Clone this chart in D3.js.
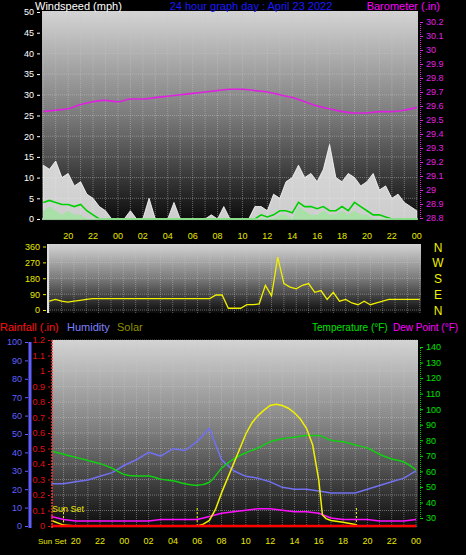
<!DOCTYPE html><html><head><meta charset="utf-8">
<script src="https://d3js.org/d3.v7.min.js"></script>
<style>body{margin:0;background:#000}svg{display:block;font-family:"Liberation Sans",Arial,sans-serif}</style></head><body>
<script>
// ---- data ----
const hourTicks=[20,22,24,26,28,30,32,34,36,38,40,42,44,46,48];
const hourLabels=["20","22","00","02","04","06","08","10","12","14","16","18","20","22","00"];
const hours=d3.range(18,49);
const halfHours=d3.range(18,48.01,0.5);
const baro=[29.56,29.57,29.58,29.61,29.63,29.64,29.63,29.65,29.65,29.66,29.67,29.68,29.69,29.70,29.71,29.72,29.72,29.71,29.70,29.68,29.66,29.63,29.60,29.58,29.56,29.55,29.55,29.56,29.56,29.57,29.59];
const gust=[13,12,14,10,11,8,9,6,5,3,2,0,0,0,2,0,0,5,0,0,0,4,0,0,0,0,0,1,0,3,0,0,0,0,3,3,2,6,5,9,10,13,10,11,9,12,18,10,9,11,10,8,9,11,7,8,5,6,4,3,2];
const windAvg=[4,4.5,4,3.5,3.5,3,3.5,2,1,0,0,0,0,0,0,0,0,0,0,0,0,0,0,0,0,0,0,0,0,0,0,0,0,0,0,1,0.5,1,2,2,1.5,4,3,3,2.5,3,2,2,3,2,4,3,2,1,1,0.5,0,0,0,0,0];
const windSpd=[2,3,2,1,2,1,1,0,0,0,0,0,0,0,0,0,0,0,0,0,0,0,0,0,0,0,0,0,0,0,0,0,0,0,0,0,0,0,1,1,0,3,2,1,1,2,1,1,2,1,2,1,1,0,0,0,0,0,0,0,0];
const windDir=[50,60,50,45,50,55,60,65,65,65,65,65,65,65,65,65,65,65,65,65,65,65,65,65,65,65,65,85,85,10,10,10,30,30,35,140,80,300,150,130,120,140,150,100,110,60,100,50,60,40,30,50,30,40,50,60,60,60,60,60,60];
const humidity=[23,23,24,25,27,29,33,36,40,38,42,41,46,53,36,30,27,26,24,21,20,20,19,18,18,18,20,22,24,26,30];
const temperature=[73,71,69,67,65,62,58,57,57,55,54,52,51,53,62,68,72,75,79,81,82,83,83,80,79,77,75,71,68,66,61];
const dewPoint=[31,29,28,28,28,28,28,28,28,29,29,29,29,31,33,34,35,36,36,35,34,34,33,30,29,29,29,28,28,28,29];
const solarTimes=[18,19,20,30,30.5,31,31.5,32,32.5,33,33.5,34,34.5,35,35.5,36,36.5,37,37.5,38,38.5,39,39.5,40,40.3,40.6,41,42,43,43.2,48];
const solarVals=[30,5,0,0,10,30,90,180,260,340,420,500,560,600,630,655,662,655,640,615,580,530,440,250,60,40,30,20,8,0,0];
const rainfall=hours.map(()=>0);
const sunTimes=[19.0,30.0,43.1];
const baroTicks=[28.8,28.9,29,29.1,29.2,29.3,29.4,29.5,29.6,29.7,29.8,29.9,30,30.1,30.2];
const dirTicks=[0,90,180,270,360];
const dirLabels=["N","E","S","W","N"];

const W=466,H=555;
const svg=d3.select("body").append("svg").attr("width",W).attr("height",H);
const defs=svg.append("defs");
const g=defs.append("linearGradient").attr("id","bg").attr("x1",0).attr("x2",0).attr("y1",0).attr("y2",1);
g.append("stop").attr("offset",0).attr("stop-color","#d4d4d4");
g.append("stop").attr("offset",0.5).attr("stop-color","#7a7a7a");
g.append("stop").attr("offset",1).attr("stop-color","#0a0a0a");

function panel(x0,x1,y0,y1){
  svg.append("rect").attr("x",x0).attr("y",y0).attr("width",x1-x0).attr("height",y1-y0).attr("fill","url(#bg)");
  const x=d3.scaleLinear().domain([17.9,48.1]).range([x0,x1]);
  svg.append("g").selectAll("line").data(d3.range(18,49)).join("line")
    .attr("x1",d=>x(d)).attr("x2",d=>x(d)).attr("y1",y0).attr("y2",y1)
    .attr("stroke","#c8c8c8").attr("stroke-opacity",0.45).attr("stroke-dasharray","1,1");
  return x;
}
function hgrid(y,vals,x0,x1){
  svg.append("g").selectAll("line").data(vals).join("line")
   .attr("x1",x0).attr("x2",x1).attr("y1",d=>y(d)).attr("y2",d=>y(d))
   .attr("stroke","#c8c8c8").attr("stroke-opacity",0.45).attr("stroke-dasharray","1,1");
}
function txt(x,y,s,c,anchor,size){return svg.append("text").attr("x",x).attr("y",y).text(s).attr("fill",c).attr("text-anchor",anchor||"start").attr("font-size",size||10);}

// ---- top panel ----
const x1s=panel(42,418,11,221);
const yW=d3.scaleLinear().domain([0,50]).range([219,12]);
const yB=d3.scaleLinear().domain([28.8,30.2]).range([218,22]);
hgrid(yW,d3.range(0,51,5),42,418);
svg.append("path").datum(gust).attr("fill","#f0f0f0").attr("fill-opacity",0.85).attr("stroke","#fff").attr("stroke-width",0.8)
 .attr("d",d3.area().x((d,i)=>x1s(halfHours[i])).y0(yW(0)).y1(d=>yW(d)));
svg.append("path").datum(windSpd).attr("fill","#a8e0a8")
 .attr("d",d3.area().x((d,i)=>x1s(halfHours[i])).y0(yW(0)).y1(d=>yW(d)));
svg.append("path").datum(windAvg).attr("fill","none").attr("stroke","#00d000").attr("stroke-width",1.6)
 .attr("d",d3.line().x((d,i)=>x1s(halfHours[i])).y(d=>yW(d)));
svg.append("line").attr("x1",42).attr("x2",418).attr("y1",yW(0)).attr("y2",yW(0)).attr("stroke","#a8e0a8").attr("stroke-width",1.5);
svg.append("path").datum(baro).attr("fill","none").attr("stroke","#e020e0").attr("stroke-width",1.6)
 .attr("d",d3.line().x((d,i)=>x1s(hours[i])).y(d=>yB(d)).curve(d3.curveMonotoneX));
svg.append("g").attr("transform","translate(40,0)").call(d3.axisLeft(yW).tickValues(d3.range(0,51,5)).tickSize(3))
 .call(a=>{a.select(".domain").remove();a.selectAll("text").attr("fill","#ffffff").attr("font-size",9);a.selectAll("line").attr("stroke","#fff");});
svg.append("g").attr("transform","translate(420,0)").call(d3.axisRight(yB).tickValues(baroTicks).tickFormat(d3.format("~g")).tickSize(3))
 .call(a=>{a.select(".domain").attr("stroke","#e020e0").attr("stroke-dasharray","1,1");a.selectAll("text").attr("fill","#e020e0").attr("font-size",9);a.selectAll("line").attr("stroke","#e020e0");});
svg.append("g").selectAll("text").data(hourTicks).join("text").attr("x",d=>x1s(d)).attr("y",239)
 .attr("text-anchor","middle").attr("fill","#e8e800").attr("font-size",9).text((d,i)=>hourLabels[i]);
txt(35,10,"Windspeed (mph)","#ffffff","start",11);
txt(251,10,"24 hour graph day : April 23 2022","#1a1aff","middle",11);
txt(440,10,"Barometer (.in)","#ff00ff","end",11);

// ---- middle panel ----
const x2s=panel(48,421,244,313);
const yD=d3.scaleLinear().domain([0,360]).range([310,246.5]);
hgrid(yD,dirTicks,48,421);
svg.append("path").datum(windDir).attr("fill","none").attr("stroke","#f0f000").attr("stroke-width",1.3)
 .attr("d",d3.line().x((d,i)=>x2s(halfHours[i])).y(d=>yD(d)));
svg.append("line").attr("x1",48).attr("x2",48).attr("y1",244).attr("y2",313).attr("stroke","#ddd").attr("stroke-width",2);
svg.append("g").attr("transform","translate(46,0)").call(d3.axisLeft(yD).tickValues(dirTicks).tickSize(3))
 .call(a=>{a.select(".domain").remove();a.selectAll("text").attr("fill","#e8e800").attr("font-size",9);a.selectAll("line").attr("stroke","#e8e800");});
svg.append("g").selectAll("text").data(dirTicks).join("text").attr("x",438).attr("y",d=>yD(d)+5)
 .attr("text-anchor","middle").attr("fill","#f0f000").attr("font-size",12).text((d,i)=>dirLabels[i]);

// legend row
txt(0,331,"Rainfall (.in)","#ff1010","start",11);
txt(67,331,"Humidity","#8080ff","start",11);
txt(117,331,"Solar","#909000","start",11);
txt(312,331,"Temperature (°F)","#00e000","start",10);
txt(393,331,"Dew Point (°F)","#ff00ff","start",10);

// ---- bottom panel ----
const x3s=d3.scaleLinear().domain([22,48]).range([100,416]);
svg.append("rect").attr("x",52).attr("y",340).attr("width",366).attr("height",188).attr("fill","url(#bg)");
svg.append("g").selectAll("line").data(d3.range(19,49)).join("line")
 .attr("x1",d=>x3s(d)).attr("x2",d=>x3s(d)).attr("y1",340).attr("y2",528)
 .attr("stroke","#c8c8c8").attr("stroke-opacity",0.45).attr("stroke-dasharray","1,1");
const yH=d3.scaleLinear().domain([0,100]).range([526,342]);
const yR=d3.scaleLinear().domain([0,1.2]).range([526,340]);
const yT=d3.scaleLinear().domain([30,140]).range([518,347]);
const yS=d3.scaleLinear().domain([0,1000]).range([526,342]);
hgrid(yR,d3.range(0,1.21,0.1),52,418);
svg.append("g").selectAll("line").data(sunTimes).join("line").attr("x1",d=>x3s(d)).attr("x2",d=>x3s(d))
 .attr("y1",508).attr("y2",527).attr("stroke","#f0f000").attr("stroke-dasharray","2,2");
svg.append("path").datum(humidity).attr("fill","none").attr("stroke","#7070f0").attr("stroke-width",1.5)
 .attr("d",d3.line().x((d,i)=>x3s(hours[i])).y(d=>yH(d)));
svg.append("path").datum(temperature).attr("fill","none").attr("stroke","#10d010").attr("stroke-width",1.5)
 .attr("d",d3.line().x((d,i)=>x3s(hours[i])).y(d=>yT(d)).curve(d3.curveMonotoneX));
svg.append("path").datum(dewPoint).attr("fill","none").attr("stroke","#ff10ff").attr("stroke-width",1.5)
 .attr("d",d3.line().x((d,i)=>x3s(hours[i])).y(d=>yT(d)));
svg.append("path").datum(solarVals).attr("fill","none").attr("stroke","#f0f000").attr("stroke-width",1.5)
 .attr("d",d3.line().x((d,i)=>x3s(solarTimes[i])).y(d=>yS(d)));
svg.append("path").datum(rainfall).attr("fill","none").attr("stroke","#ff0000").attr("stroke-width",2.5)
 .attr("d",d3.line().x((d,i)=>x3s(hours[i])).y(d=>yR(d)));
svg.append("line").attr("x1",52).attr("x2",52).attr("y1",340).attr("y2",528).attr("stroke","#ff3030").attr("stroke-dasharray","2,1").attr("stroke-width",1.5);
svg.append("line").attr("x1",30).attr("x2",30).attr("y1",342).attr("y2",528).attr("stroke","#6060ff").attr("stroke-width",3);
svg.append("g").attr("transform","translate(28,0)").call(d3.axisLeft(yH).tickValues(d3.range(0,101,10)).tickSize(3))
 .call(a=>{a.select(".domain").remove();a.selectAll("text").attr("fill","#6060ff").attr("font-size",9);a.selectAll("line").attr("stroke","#6060ff");});
svg.append("g").attr("transform","translate(50,0)").call(d3.axisLeft(yR).tickValues(d3.range(0,1.21,0.1)).tickFormat(d3.format("~g")).tickSize(2))
 .call(a=>{a.select(".domain").remove();a.selectAll("text").attr("fill","#e01010").attr("font-size",9);a.selectAll("line").attr("stroke","#e01010");});
svg.append("g").attr("transform","translate(420,0)").call(d3.axisRight(yT).tickValues(d3.range(30,141,10)).tickSize(3))
 .call(a=>{a.select(".domain").attr("stroke","#00c000").attr("stroke-dasharray","1,1");a.selectAll("text").attr("fill","#00e000").attr("font-size",9);a.selectAll("line").attr("stroke","#00e000");});
svg.append("g").selectAll("text").data(hourTicks).join("text").attr("x",d=>x3s(d)).attr("y",544)
 .attr("text-anchor","middle").attr("fill","#e8e800").attr("font-size",9).text((d,i)=>hourLabels[i]);
txt(38,544,"Sun Set","#e8e800","start",8);
txt(52,512,"Sun Set","#e8e800","start",9);
</script></body></html>
